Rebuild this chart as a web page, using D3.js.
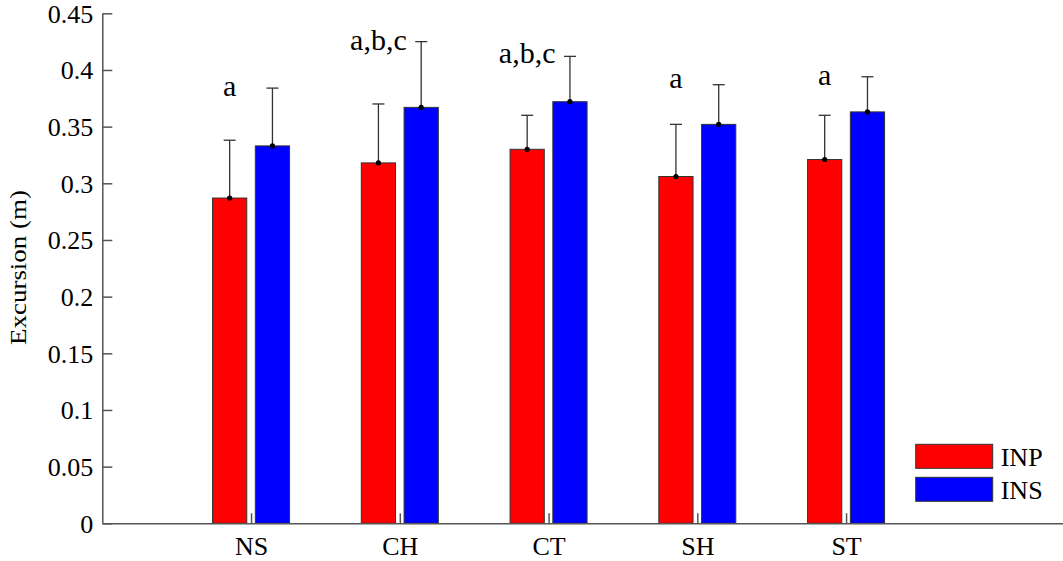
<!DOCTYPE html>
<html>
<head>
<meta charset="utf-8">
<script src="https://cdn.jsdelivr.net/npm/d3@7"></script>
<style>
  html, body { margin: 0; padding: 0; background: #fff; }
  svg { display: block; font-family: "Liberation Serif", "Times New Roman", serif; }
</style>
</head>
<body>
<svg id="chart" width="1063" height="561"></svg>
<script>
// Movement conditions along the x axis
const categories = ["NS", "CH", "CT", "SH", "ST"];
const seriesNames = ["INP", "INS"];
const seriesColors = ["#ff0000", "#0000ff"];

// Mean excursion (m) and upper error (m) for each series
const inpMean = [0.287, 0.318, 0.330, 0.306, 0.321];
const inpErr  = [0.051, 0.052, 0.030, 0.046, 0.039];
const insMean = [0.333, 0.367, 0.372, 0.352, 0.363];
const insErr  = [0.051, 0.058, 0.040, 0.035, 0.031];

// Significance letters above each group, and the height (m) they sit at
const sigLabels  = ["a", "a,b,c", "a,b,c", "a", "a"];
const sigHeights = [0.377, 0.4175, 0.406, 0.384, 0.387];

const yTicks = [0, 0.05, 0.1, 0.15, 0.2, 0.25, 0.3, 0.35, 0.4, 0.45];

const svg = d3.select("#chart");
const axisColor = "#555";
const fontSize = 25;

const x = d3.scaleLinear().domain([0, 6.5]).range([102.3, 1069.2]);
const y = d3.scaleLinear().domain([0, 0.45]).range([523.3, 13.3]);
const sub = d3.scaleBand().domain(seriesNames).range([-38.5, 38.5]).paddingInner(0.2);

const means = [inpMean, insMean];
const errs = [inpErr, insErr];

// Bars, error bars and mean markers
seriesNames.forEach((name, s) => {
  const g = svg.append("g").attr("class", "series-" + name);
  categories.forEach((cat, i) => {
    const cx = x(i + 1) + sub(name);
    const v = means[s][i];
    g.append("rect")
      .attr("x", cx)
      .attr("y", y(v))
      .attr("width", sub.bandwidth())
      .attr("height", y(0) - y(v))
      .attr("fill", seriesColors[s])
      .attr("stroke", "#333")
      .attr("stroke-width", 1);
    const mx = cx + sub.bandwidth() / 2;
    const top = v + errs[s][i];
    g.append("line")
      .attr("x1", mx).attr("x2", mx)
      .attr("y1", y(v)).attr("y2", y(top))
      .attr("stroke", "#333").attr("stroke-width", 1.3);
    g.append("line")
      .attr("x1", mx - 6).attr("x2", mx + 6)
      .attr("y1", y(top)).attr("y2", y(top))
      .attr("stroke", "#333").attr("stroke-width", 1.3);
    g.append("circle")
      .attr("cx", mx).attr("cy", y(v)).attr("r", 2.6)
      .attr("fill", "#000");
  });
});

// Significance annotations, centred over the INP bar
svg.append("g").selectAll("text")
  .data(categories)
  .join("text")
  .attr("x", (d, i) => x(i + 1) + sub("INP") + sub.bandwidth() / 2)
  .attr("y", (d, i) => y(sigHeights[i]))
  .attr("text-anchor", "middle")
  .attr("font-size", 30)
  .attr("fill", "#000")
  .text((d, i) => sigLabels[i]);

// Y axis with inward ticks
const yAxis = svg.append("g")
  .attr("transform", `translate(${x(0)},0)`)
  .call(d3.axisLeft(y).tickValues(yTicks).tickSizeInner(-10).tickSizeOuter(0)
    .tickFormat(d => d3.format("")(+d.toFixed(2))));
yAxis.select(".domain").attr("stroke", axisColor).attr("stroke-width", 1.5);
yAxis.selectAll(".tick line").attr("stroke", axisColor).attr("stroke-width", 1.5);
yAxis.selectAll(".tick text")
  .attr("x", -9)
  .attr("dy", "0.34em")
  .attr("font-size", 26)
  .attr("font-family", "Liberation Serif, serif")
  .attr("fill", "#000");

// X axis with inward ticks at each category
const xAxis = svg.append("g")
  .attr("transform", `translate(0,${y(0)})`)
  .call(d3.axisBottom(x).tickValues([1, 2, 3, 4, 5]).tickSizeInner(-10).tickSizeOuter(0)
    .tickFormat(d => categories[d - 1]));
xAxis.select(".domain").attr("stroke", axisColor).attr("stroke-width", 1.5);
xAxis.selectAll(".tick line").attr("stroke", axisColor).attr("stroke-width", 1.5);
xAxis.selectAll(".tick text")
  .attr("y", 32)
  .attr("dy", "0")
  .attr("font-size", 26)
  .attr("font-family", "Liberation Serif, serif")
  .attr("fill", "#000");

// Y axis title
svg.append("text")
  .attr("transform", "translate(26,267.5) rotate(-90)")
  .attr("text-anchor", "middle")
  .attr("font-size", 24)
  .attr("textLength", 155)
  .attr("lengthAdjust", "spacingAndGlyphs")
  .attr("fill", "#000")
  .text("Excursion (m)");

// Legend
const legend = svg.append("g").attr("transform", "translate(915.7,444.3)");
seriesNames.forEach((name, s) => {
  legend.append("rect")
    .attr("x", 0).attr("y", s * 33)
    .attr("width", 77).attr("height", 24)
    .attr("fill", seriesColors[s])
    .attr("stroke", "#333").attr("stroke-width", 1);
  legend.append("text")
    .attr("x", 85).attr("y", s * 33 + 21.5)
    .attr("font-size", 26)
    .attr("fill", "#000")
    .text(name);
});
</script>
</body>
</html>
